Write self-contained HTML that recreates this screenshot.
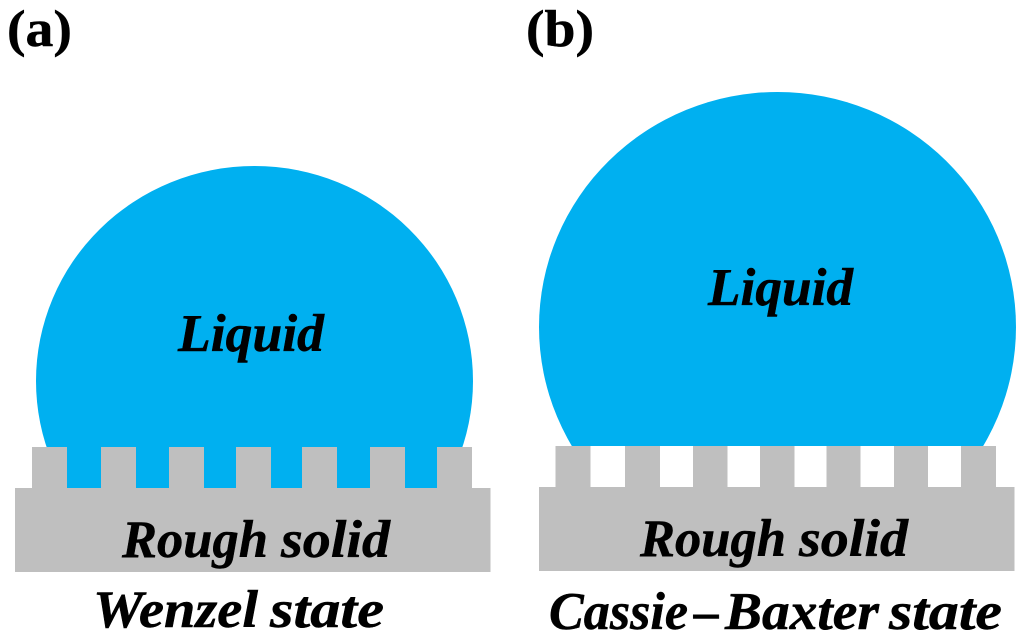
<!DOCTYPE html>
<html><head><meta charset="utf-8"><style>
html,body{margin:0;padding:0;background:#fff;width:1024px;height:636px;overflow:hidden}
svg{display:block}
text{font-family:"Liberation Serif",serif;font-weight:bold;font-style:italic;fill:#000;stroke:#000;stroke-width:.5px}
</style></head><body>
<svg width="1024" height="636" viewBox="0 0 1024 636" xmlns="http://www.w3.org/2000/svg">
<defs>
<clipPath id="ca"><rect x="0" y="0" width="512" height="489"/></clipPath>
<clipPath id="cb"><rect x="512" y="0" width="512" height="446"/></clipPath>
</defs>
<ellipse cx="254.5" cy="381" rx="218.5" ry="215" fill="#00B0F0" clip-path="url(#ca)"/>
<rect x="15" y="488" width="475.5" height="84" fill="#BFBFBF"/>
<g fill="#BFBFBF">
<rect x="32" y="447" width="35" height="41.5"/>
<rect x="101" y="447" width="35" height="41.5"/>
<rect x="169" y="447" width="35" height="41.5"/>
<rect x="236" y="447" width="35" height="41.5"/>
<rect x="302" y="447" width="35" height="41.5"/>
<rect x="370" y="447" width="35" height="41.5"/>
<rect x="437" y="447" width="35" height="41.5"/>
</g>
<ellipse cx="777.5" cy="327" rx="238.5" ry="235" fill="#00B0F0" clip-path="url(#cb)"/>
<rect x="539" y="487" width="475.5" height="84" fill="#BFBFBF"/>
<g fill="#BFBFBF">
<rect x="555.5" y="446" width="35" height="41.5"/>
<rect x="625" y="446" width="35" height="41.5"/>
<rect x="693" y="446" width="34.5" height="41.5"/>
<rect x="760" y="446" width="34.5" height="41.5"/>
<rect x="826.5" y="446" width="34" height="41.5"/>
<rect x="894" y="446" width="34" height="41.5"/>
<rect x="961" y="446" width="35" height="41.5"/>
</g>
<text x="7" y="46" font-size="52" style="font-style:normal" textLength="65" lengthAdjust="spacingAndGlyphs">(a)</text>
<text x="526" y="46" font-size="52" style="font-style:normal" textLength="68" lengthAdjust="spacingAndGlyphs">(b)</text>
<text x="178" y="351" font-size="53" textLength="146" lengthAdjust="spacingAndGlyphs">Liquid</text>
<text x="708" y="305" font-size="53" textLength="145" lengthAdjust="spacingAndGlyphs">Liquid</text>
<text x="122" y="557" font-size="53" textLength="146" lengthAdjust="spacingAndGlyphs">Rough</text>
<text x="281" y="557" font-size="53" textLength="109" lengthAdjust="spacingAndGlyphs">solid</text>
<text x="640" y="556" font-size="53" textLength="146" lengthAdjust="spacingAndGlyphs">Rough</text>
<text x="799" y="556" font-size="53" textLength="109" lengthAdjust="spacingAndGlyphs">solid</text>
<text x="93" y="627" font-size="53" textLength="165" lengthAdjust="spacingAndGlyphs">Wenzel</text>
<text x="270" y="627" font-size="53" textLength="114" lengthAdjust="spacingAndGlyphs">state</text>
<text x="549" y="629" font-size="53" textLength="139" lengthAdjust="spacingAndGlyphs">Cassie</text>
<text x="694" y="629" font-size="53" textLength="25" lengthAdjust="spacingAndGlyphs">–</text>
<text x="725" y="629" font-size="53" textLength="154" lengthAdjust="spacingAndGlyphs">Baxter</text>
<text x="889" y="629" font-size="53" textLength="113" lengthAdjust="spacingAndGlyphs">state</text>
</svg>
</body></html>
